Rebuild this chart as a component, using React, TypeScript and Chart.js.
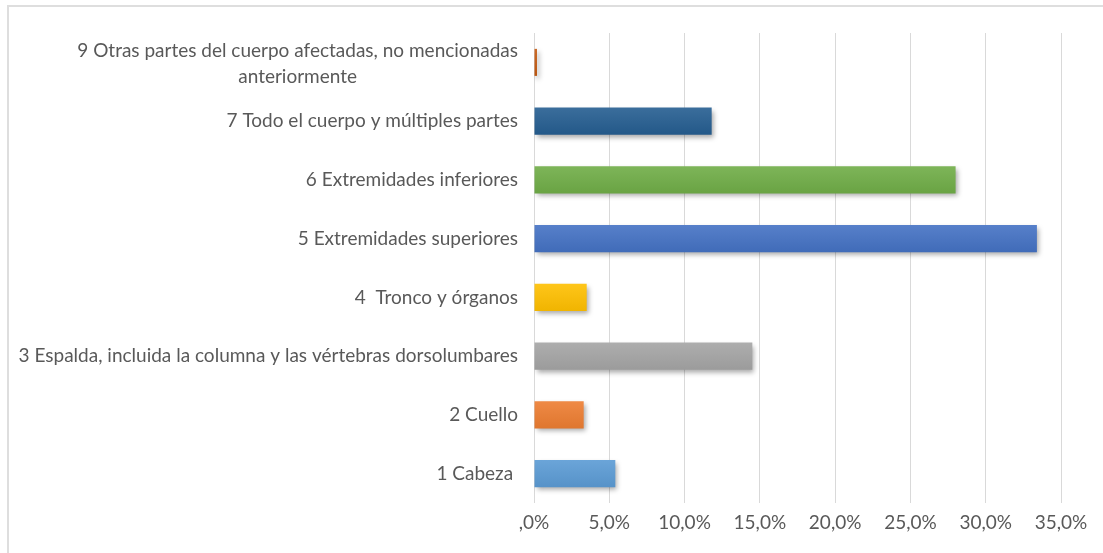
import React, { useEffect, useRef } from "react";
import { Chart, registerables } from "chart.js";

Chart.register(...registerables);

const categories: (string | string[])[] = [
  ["9 Otras partes del cuerpo afectadas, no mencionadas", "anteriormente"],
  "7 Todo el cuerpo y múltiples partes",
  "6 Extremidades inferiores",
  "5 Extremidades superiores",
  "4  Tronco y órganos",
  "3 Espalda, incluida la columna y las vértebras dorsolumbares",
  "2 Cuello",
  "1 Cabeza ",
];

const values = [0.2, 11.8, 28.0, 33.4, 3.5, 14.5, 3.3, 5.4];

const barColors = [
  "#C55A11",
  "#255E91",
  "#70AD47",
  "#4472C4",
  "#FFC000",
  "#A5A5A5",
  "#ED7D31",
  "#5B9BD5",
];

const xMin = 0;
const xMax = 35;
const xStep = 5;

const FONT = "Lato, 'Open Sans', sans-serif";
const FONT_SIZE = 19;
const TEXT_COLOR = "#595959";

function shade(hex: string, amt: number): string {
  const n = parseInt(hex.slice(1), 16);
  let r = (n >> 16) & 255;
  let g = (n >> 8) & 255;
  let b = n & 255;
  if (amt >= 0) {
    r = Math.round(r + (255 - r) * amt);
    g = Math.round(g + (255 - g) * amt);
    b = Math.round(b + (255 - b) * amt);
  } else {
    r = Math.round(r * (1 + amt));
    g = Math.round(g * (1 + amt));
    b = Math.round(b * (1 + amt));
  }
  return `rgb(${r},${g},${b})`;
}

const shadowPlugin = {
  id: "barShadow",
  beforeDatasetsDraw(chart: any) {
    const ctx = chart.ctx;
    ctx.save();
    ctx.shadowColor = "rgba(0,0,0,0.35)";
    ctx.shadowBlur = 5;
    ctx.shadowOffsetX = 2;
    ctx.shadowOffsetY = 3;
  },
  afterDatasetsDraw(chart: any) {
    chart.ctx.restore();
  },
};

const yLabelPlugin = {
  id: "yLabels",
  afterDraw(chart: any) {
    const { ctx, chartArea } = chart;
    const yScale = chart.scales.y;
    ctx.save();
    ctx.font = `${FONT_SIZE}px ${FONT}`;
    ctx.fillStyle = TEXT_COLOR;
    ctx.textBaseline = "middle";
    ctx.textAlign = "center";
    const xr = chartArea.left - 16;
    const lh = 26;
    categories.forEach((lab, i) => {
      const lines = Array.isArray(lab) ? lab : [lab];
      const yc = yScale.getPixelForValue(i) + (lines.length > 1 ? 1 : 0);
      const maxW = Math.max(...lines.map((l) => ctx.measureText(l).width));
      const cx = xr - maxW / 2;
      lines.forEach((l, j) => {
        const yy = yc + (j - (lines.length - 1) / 2) * lh;
        ctx.fillText(l, cx, yy);
      });
    });
    ctx.restore();
  },
};

export default function App() {
  const ref = useRef<HTMLCanvasElement>(null);

  useEffect(() => {
    if (!ref.current) return;
    const chart = new Chart(ref.current, {
      type: "bar",
      data: {
        labels: categories.map((c) => (Array.isArray(c) ? c.join(" ") : c)),
        datasets: [
          {
            data: values,
            backgroundColor: (ctx: any) => {
              const base = barColors[ctx.dataIndex];
              const chartObj = ctx.chart;
              const ys = chartObj.scales && chartObj.scales.y;
              if (!ys || ys.getPixelForValue == null || !chartObj.chartArea) return base;
              const yc = ys.getPixelForValue(ctx.dataIndex);
              if (!isFinite(yc)) return base;
              const g = chartObj.ctx.createLinearGradient(0, yc - 14, 0, yc + 14);
              g.addColorStop(0, shade(base, 0.1));
              g.addColorStop(1, shade(base, -0.06));
              return g;
            },
            borderWidth: 0,
            barPercentage: 0.92,
            categoryPercentage: 0.5,
          },
        ],
      },
      options: {
        indexAxis: "y",
        animation: false,
        responsive: false,
        maintainAspectRatio: false,
        layout: { padding: { left: 0, right: 42, top: 26, bottom: 0 } },
        plugins: {
          legend: { display: false },
          tooltip: { enabled: false },
          title: { display: false },
        },
        scales: {
          x: {
            type: "linear",
            min: xMin,
            max: xMax,
            afterFit: (s: any) => {
              s.height = 50;
            },
            ticks: {
              stepSize: xStep,
              padding: 8,
              color: TEXT_COLOR,
              font: { family: FONT, size: FONT_SIZE },
              callback: (v: any) => {
                const n = Number(v);
                if (n === 0) return ",0%";
                return n.toFixed(1).replace(".", ",") + "%";
              },
            },
            grid: {
              color: "#d9d9d9",
              lineWidth: 1,
              drawTicks: false,
            },
            border: { display: false },
          },
          y: {
            type: "category",
            afterFit: (s: any) => {
              s.width = 525;
            },
            ticks: { display: false },
            grid: { display: false },
            border: { display: false },
          },
        },
      },
      plugins: [shadowPlugin, yLabelPlugin],
    });
    return () => chart.destroy();
  }, []);

  return (
    <div
      style={{
        position: "fixed",
        left: 0,
        top: 0,
        width: 1103,
        height: 553,
        overflow: "hidden",
        background: "#fff",
      }}
    >
      <div
        style={{
          position: "absolute",
          left: 7,
          top: 5,
          width: 1110,
          height: 570,
          border: "2px solid #dedede",
          boxSizing: "border-box",
        }}
      >
        <canvas
          ref={ref}
          width={1094}
          height={546}
          style={{ position: "absolute", left: 0, top: 0, width: 1094, height: 546 }}
        />
      </div>
    </div>
  );
}
